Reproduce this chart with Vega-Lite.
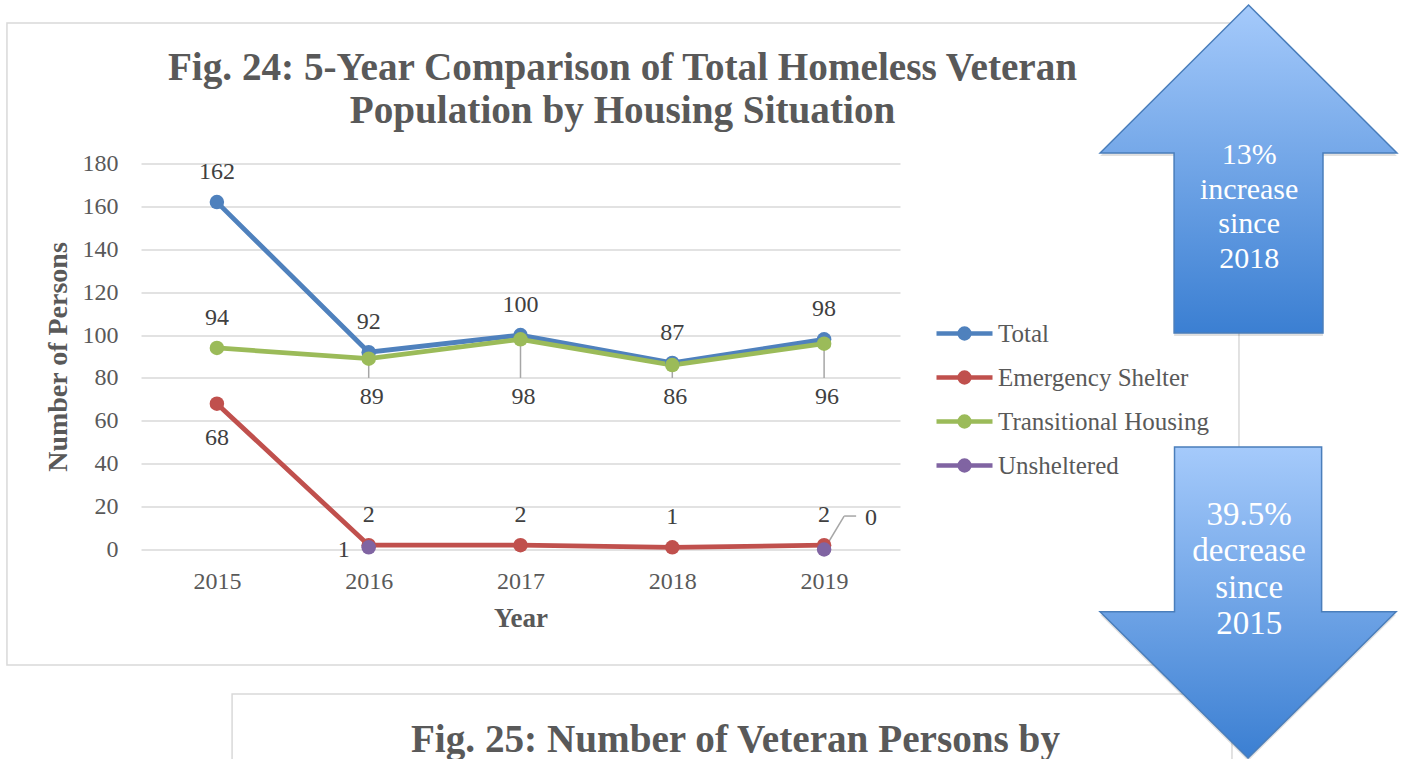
{
  "$schema": "https://vega.github.io/schema/vega-lite/v6.json",
  "width": 759,
  "height": 386,
  "autosize": "none",
  "padding": {"left": 141, "top": 163.5, "right": 505, "bottom": 209.5},
  "background": "#ffffff",
  "config": {"view": {"stroke": null}, "font": "Liberation Serif"},
  "title": {
    "text": ["Fig. 24: 5-Year Comparison of Total Homeless Veteran", "Population by Housing Situation"],
    "font": "Liberation Serif",
    "fontSize": 39.2,
    "fontWeight": "bold",
    "color": "#595959",
    "lineHeight": 43,
    "anchor": "middle",
    "frame": "group",
    "dx": 102,
    "dy": 162,
    "offset": 33
  },
  "datasets": {
    "homeless": [
      {"year": 2015, "series": "Total", "value": 162},
      {"year": 2016, "series": "Total", "value": 92},
      {"year": 2017, "series": "Total", "value": 100},
      {"year": 2018, "series": "Total", "value": 87},
      {"year": 2019, "series": "Total", "value": 98},
      {"year": 2015, "series": "Emergency Shelter", "value": 68},
      {"year": 2016, "series": "Emergency Shelter", "value": 2},
      {"year": 2017, "series": "Emergency Shelter", "value": 2},
      {"year": 2018, "series": "Emergency Shelter", "value": 1},
      {"year": 2019, "series": "Emergency Shelter", "value": 2},
      {"year": 2015, "series": "Transitional Housing", "value": 94},
      {"year": 2016, "series": "Transitional Housing", "value": 89},
      {"year": 2017, "series": "Transitional Housing", "value": 98},
      {"year": 2018, "series": "Transitional Housing", "value": 86},
      {"year": 2019, "series": "Transitional Housing", "value": 96},
      {"year": 2016, "series": "Unsheltered", "value": 1},
      {"year": 2019, "series": "Unsheltered", "value": 0}
    ]
  },
  "data": {"name": "homeless"},
  "layer": [
    {
      "data": {"values": [{}]},
      "mark": {"type": "rect", "fill": "transparent", "stroke": "#d9d9d9", "strokeWidth": 1.5},
      "encoding": {
        "x": {"datum": 2013.617, "type": "quantitative"},
        "x2": {"datum": 2021.733},
        "y": {"datum": 245.5, "type": "quantitative"},
        "y2": {"datum": -53.86}
      }
    },
    {
      "data": {"values": [{}]},
      "mark": {"type": "rect", "fill": "transparent", "stroke": "#d9d9d9", "strokeWidth": 1.5},
      "encoding": {
        "x": {"datum": 2015.1, "type": "quantitative"},
        "x2": {"datum": 2021.687},
        "y": {"datum": -67.4, "type": "quantitative"},
        "y2": {"datum": -125}
      }
    },
    {
      "transform": [{"filter": "datum.series === 'Transitional Housing' && datum.year >= 2016"}],
      "mark": {"type": "rule", "stroke": "#a6a6a6", "strokeWidth": 1.5},
      "encoding": {
        "x": {"field": "year", "type": "quantitative"},
        "y": {"field": "value", "type": "quantitative"},
        "y2": {"datum": 80}
      }
    },
    {
      "data": {"values": [{}]},
      "mark": {"type": "rule", "stroke": "#a6a6a6", "strokeWidth": 1.5},
      "encoding": {
        "x": {"datum": 2019, "type": "quantitative"},
        "x2": {"datum": 2019.132},
        "y": {"datum": 0, "type": "quantitative"},
        "y2": {"datum": 15.6}
      }
    },
    {
      "data": {"values": [{}]},
      "mark": {"type": "rule", "stroke": "#a6a6a6", "strokeWidth": 1.5},
      "encoding": {
        "x": {"datum": 2019.132, "type": "quantitative"},
        "x2": {"datum": 2019.211},
        "y": {"datum": 15.6, "type": "quantitative"}
      }
    },
    {
      "transform": [{"filter": "datum.series !== 'Unsheltered'"}],
      "mark": {"type": "line", "strokeWidth": 4.8},
      "encoding": {
        "x": {
          "field": "year",
          "type": "quantitative",
          "scale": {"domain": [2014.5, 2019.5], "nice": false, "zero": false},
          "axis": {
            "title": "Year",
            "values": [2015, 2016, 2017, 2018, 2019],
            "format": "d",
            "grid": false,
            "domain": false,
            "ticks": false,
            "labelFont": "Liberation Serif",
            "labelFontSize": 24,
            "labelColor": "#595959",
            "labelPadding": 20,
            "titleFont": "Liberation Serif",
            "titleFontSize": 27,
            "titleFontWeight": "bold",
            "titleColor": "#595959",
            "titlePadding": 12
          }
        },
        "y": {
          "field": "value",
          "type": "quantitative",
          "scale": {"domain": [0, 180], "nice": false},
          "axis": {
            "title": "Number of Persons",
            "values": [0, 20, 40, 60, 80, 100, 120, 140, 160, 180],
            "grid": true,
            "gridColor": "#d9d9d9",
            "gridWidth": 1.5,
            "domain": false,
            "ticks": false,
            "labelFont": "Liberation Serif",
            "labelFontSize": 24,
            "labelColor": "#595959",
            "labelPadding": 23,
            "titleFont": "Liberation Serif",
            "titleFontSize": 28,
            "titleFontWeight": "bold",
            "titleColor": "#595959",
            "titlePadding": 10
          }
        },
        "color": {
          "field": "series",
          "type": "nominal",
          "scale": {
            "domain": ["Total", "Emergency Shelter", "Transitional Housing", "Unsheltered"],
            "range": ["#4f81bd", "#c0504d", "#9bbb59", "#8064a2"]
          },
          "legend": {
            "title": null,
            "orient": "none",
            "legendX": 807,
            "legendY": 153.5,
            "padding": 0,
            "symbolType": "M-2,0L2,0M-0.35,0A0.35,0.35,0,1,1,0.35,0A0.35,0.35,0,1,1,-0.35,0",
            "symbolSize": 784,
            "symbolStrokeWidth": 4.5,
            "labelFont": "Liberation Serif",
            "labelFontSize": 25,
            "labelColor": "#595959",
            "labelOffset": 17,
            "labelLimit": 400,
            "rowPadding": 13,
            "encode": {
              "symbols": {
                "update": {
                  "fill": {"scale": "color", "field": "value"},
                  "stroke": {"scale": "color", "field": "value"},
                  "opacity": {"value": 1}
                }
              }
            }
          }
        }
      }
    },
    {
      "mark": {"type": "point", "filled": true, "size": 210, "opacity": 1},
      "encoding": {
        "x": {"field": "year", "type": "quantitative"},
        "y": {"field": "value", "type": "quantitative"},
        "color": {"field": "series", "type": "nominal"}
      }
    },
    {
      "transform": [{"filter": "datum.series === 'Total' || (datum.series === 'Transitional Housing' && datum.year === 2015)"}],
      "mark": {"type": "text", "font": "Liberation Serif", "fontSize": 24, "color": "#404040", "baseline": "middle", "dy": -30},
      "encoding": {
        "x": {"field": "year", "type": "quantitative"},
        "y": {"field": "value", "type": "quantitative"},
        "text": {"field": "value", "type": "quantitative"}
      }
    },
    {
      "transform": [{"filter": "datum.series === 'Transitional Housing' && datum.year >= 2016"}],
      "mark": {"type": "text", "font": "Liberation Serif", "fontSize": 24, "color": "#404040", "baseline": "middle", "dx": 3},
      "encoding": {
        "x": {"field": "year", "type": "quantitative"},
        "y": {"datum": 71, "type": "quantitative"},
        "text": {"field": "value", "type": "quantitative"}
      }
    },
    {
      "transform": [{"filter": "datum.series === 'Emergency Shelter' && datum.year === 2015"}],
      "mark": {"type": "text", "font": "Liberation Serif", "fontSize": 24, "color": "#404040", "baseline": "middle", "dy": 34},
      "encoding": {
        "x": {"field": "year", "type": "quantitative"},
        "y": {"field": "value", "type": "quantitative"},
        "text": {"field": "value", "type": "quantitative"}
      }
    },
    {
      "transform": [{"filter": "datum.series === 'Emergency Shelter' && datum.year >= 2016"}],
      "mark": {"type": "text", "font": "Liberation Serif", "fontSize": 24, "color": "#404040", "baseline": "middle", "dy": -30},
      "encoding": {
        "x": {"field": "year", "type": "quantitative"},
        "y": {"field": "value", "type": "quantitative"},
        "text": {"field": "value", "type": "quantitative"}
      }
    },
    {
      "transform": [{"filter": "datum.series === 'Unsheltered' && datum.year === 2016"}],
      "mark": {"type": "text", "font": "Liberation Serif", "fontSize": 24, "color": "#404040", "baseline": "middle", "align": "right", "dx": -19, "dy": 3},
      "encoding": {
        "x": {"field": "year", "type": "quantitative"},
        "y": {"field": "value", "type": "quantitative"},
        "text": {"field": "value", "type": "quantitative"}
      }
    },
    {
      "transform": [{"filter": "datum.series === 'Unsheltered' && datum.year === 2019"}],
      "mark": {"type": "text", "font": "Liberation Serif", "fontSize": 24, "color": "#404040", "baseline": "middle", "align": "center", "dx": 47, "dy": -32},
      "encoding": {
        "x": {"field": "year", "type": "quantitative"},
        "y": {"field": "value", "type": "quantitative"},
        "text": {"field": "value", "type": "quantitative"}
      }
    },
    {
      "data": {"values": [{}]},
      "mark": {
        "type": "point",
        "shape": "M0,-1L0.905,-0.098L0.454,-0.098L0.454,1L-0.454,1L-0.454,-0.098L-0.905,-0.098Z",
        "size": 107584,
        "filled": true,
        "opacity": 0.12,
        "color": "#000000",
        "yOffset": 3
      },
      "encoding": {
        "x": {"datum": 2021.796, "type": "quantitative"},
        "y": {"datum": 177.44, "type": "quantitative"}
      }
    },
    {
      "data": {"values": [{}]},
      "mark": {
        "type": "point",
        "shape": "M0,-1L0.905,-0.098L0.454,-0.098L0.454,1L-0.454,1L-0.454,-0.098L-0.905,-0.098Z",
        "size": 107584,
        "filled": true,
        "opacity": 1,
        "fill": {"gradient": "linear", "x1": 0, "y1": 0, "x2": 0, "y2": 1, "stops": [{"offset": 0, "color": "#a5cafb"}, {"offset": 1, "color": "#3b7fd2"}]},
        "stroke": "#4a7ebb",
        "strokeWidth": 1.5
      },
      "encoding": {
        "x": {"datum": 2021.796, "type": "quantitative"},
        "y": {"datum": 177.44, "type": "quantitative"}
      }
    },
    {
      "data": {"values": [{}]},
      "mark": {
        "type": "point",
        "shape": "M-0.473,-1L0.473,-1L0.473,0.059L0.952,0.059L0,1L-0.952,0.059L-0.473,0.059Z",
        "size": 96721,
        "filled": true,
        "opacity": 0.12,
        "color": "#000000",
        "yOffset": 3
      },
      "encoding": {
        "x": {"datum": 2021.793, "type": "quantitative"},
        "y": {"datum": -24.72, "type": "quantitative"}
      }
    },
    {
      "data": {"values": [{}]},
      "mark": {
        "type": "point",
        "shape": "M-0.473,-1L0.473,-1L0.473,0.059L0.952,0.059L0,1L-0.952,0.059L-0.473,0.059Z",
        "size": 96721,
        "filled": true,
        "opacity": 1,
        "fill": {"gradient": "linear", "x1": 0, "y1": 0, "x2": 0, "y2": 1, "stops": [{"offset": 0, "color": "#a5cafb"}, {"offset": 1, "color": "#3b7fd2"}]},
        "stroke": "#4a7ebb",
        "strokeWidth": 1.5
      },
      "encoding": {
        "x": {"datum": 2021.793, "type": "quantitative"},
        "y": {"datum": -24.72, "type": "quantitative"}
      }
    },
    {
      "data": {"values": [{}]},
      "mark": {"type": "text", "text": ["13%", "increase", "since", "2018"], "font": "Liberation Serif", "fontSize": 30, "lineHeight": 34.7, "color": "#ffffff", "align": "center", "baseline": "middle"},
      "encoding": {
        "x": {"datum": 2021.8, "type": "quantitative"},
        "y": {"datum": 183.97, "type": "quantitative"}
      }
    },
    {
      "data": {"values": [{}]},
      "mark": {"type": "text", "text": ["39.5%", "decrease", "since", "2015"], "font": "Liberation Serif", "fontSize": 33, "lineHeight": 36.4, "color": "#ffffff", "align": "center", "baseline": "middle"},
      "encoding": {
        "x": {"datum": 2021.8, "type": "quantitative"},
        "y": {"datum": 16.09, "type": "quantitative"}
      }
    },
    {
      "data": {"values": [{}]},
      "mark": {"type": "text", "text": "Fig. 25: Number of Veteran Persons by", "font": "Liberation Serif", "fontSize": 39.2, "fontWeight": "bold", "color": "#595959", "align": "center", "baseline": "alphabetic"},
      "encoding": {
        "x": {"datum": 2018.416, "type": "quantitative"},
        "y": {"datum": -94.4, "type": "quantitative"}
      }
    }
  ]
}
